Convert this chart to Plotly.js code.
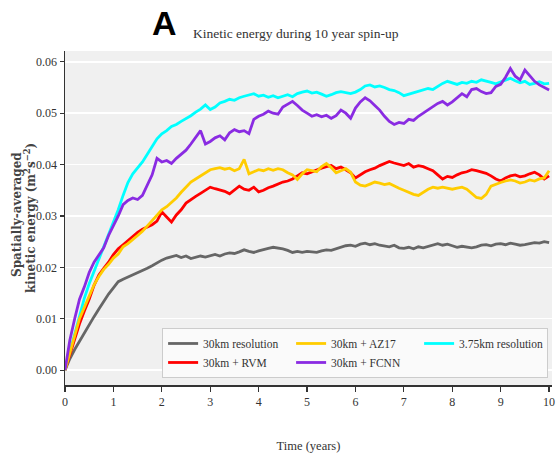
<!DOCTYPE html>
<html>
<head>
<meta charset="utf-8">
<script src="https://cdn.plot.ly/plotly-3.0.1.min.js"></script>
<style>html,body{margin:0;padding:0;background:#fff;}#chart{width:558px;height:455px;}</style>
</head>
<body>
<div id="chart"></div>
<script>
const timeYears = [0,0.1,0.2,0.3,0.4,0.5,0.6,0.7,0.8,0.9,1.0,1.1,1.2,1.3,1.4,1.5,1.6,1.7,1.8,1.9,2.0,2.1,2.2,2.3,2.4,2.5,2.6,2.7,2.8,2.9,3.0,3.1,3.2,3.3,3.4,3.5,3.6,3.7,3.8,3.9,4.0,4.1,4.2,4.3,4.4,4.5,4.6,4.7,4.8,4.9,5.0,5.1,5.2,5.3,5.4,5.5,5.6,5.7,5.8,5.9,6.0,6.1,6.2,6.3,6.4,6.5,6.6,6.7,6.8,6.9,7.0,7.1,7.2,7.3,7.4,7.5,7.6,7.7,7.8,7.9,8.0,8.1,8.2,8.3,8.4,8.5,8.6,8.7,8.8,8.9,9.0,9.1,9.2,9.3,9.4,9.5,9.6,9.7,9.8,9.9,10.0];

const ke30km = [0,0.0022,0.0040,0.0056,0.0072,0.0090,0.0104,0.0119,0.0134,0.0148,0.0160,0.0172,0.0177,0.0181,0.0185,0.0190,0.0194,0.0198,0.0203,0.0209,0.0214,0.0218,0.0221,0.0223,0.0219,0.0222,0.0217,0.0219,0.0222,0.0220,0.0223,0.0225,0.0222,0.0226,0.0228,0.0227,0.0230,0.0234,0.0231,0.0229,0.0232,0.0235,0.0237,0.0239,0.0238,0.0236,0.0233,0.0229,0.0231,0.0229,0.0231,0.0230,0.0229,0.0232,0.0234,0.0233,0.0236,0.0240,0.0242,0.0243,0.0241,0.0245,0.0247,0.0244,0.0246,0.0243,0.0242,0.0240,0.0243,0.0238,0.0237,0.0239,0.0236,0.0240,0.0238,0.0241,0.0244,0.0246,0.0243,0.0245,0.0242,0.0239,0.0241,0.0240,0.0238,0.0240,0.0243,0.0244,0.0242,0.0245,0.0246,0.0244,0.0247,0.0245,0.0243,0.0244,0.0246,0.0248,0.0247,0.0250,0.0248];

const keRVM = [0,0.0030,0.0060,0.0090,0.0115,0.0138,0.0165,0.0185,0.0198,0.0210,0.0225,0.0236,0.0244,0.0252,0.0260,0.0268,0.0274,0.0278,0.0283,0.0290,0.0308,0.0298,0.0288,0.0302,0.0312,0.0325,0.0332,0.0338,0.0344,0.0350,0.0356,0.0353,0.0350,0.0348,0.0343,0.0350,0.0358,0.0352,0.0350,0.0356,0.0347,0.0350,0.0355,0.0358,0.0362,0.0366,0.0368,0.0372,0.0378,0.0384,0.0382,0.0386,0.0389,0.0393,0.0396,0.0398,0.0392,0.0395,0.0390,0.0384,0.0374,0.0380,0.0386,0.0390,0.0393,0.0398,0.0402,0.0406,0.0403,0.0400,0.0398,0.0402,0.0395,0.0398,0.0396,0.0392,0.0388,0.0380,0.0372,0.0377,0.0375,0.0380,0.0384,0.0386,0.0390,0.0388,0.0386,0.0383,0.0378,0.0372,0.0368,0.0374,0.0378,0.0380,0.0376,0.0378,0.0382,0.0385,0.0380,0.0372,0.0378];

const keAZ17 = [0,0.0032,0.0064,0.0100,0.0122,0.0145,0.0166,0.0182,0.0196,0.0206,0.0218,0.0226,0.0240,0.0246,0.0255,0.0262,0.0270,0.0280,0.0292,0.0302,0.0312,0.0318,0.0326,0.0335,0.0346,0.0356,0.0366,0.0372,0.0378,0.0384,0.0390,0.0392,0.0394,0.0391,0.0393,0.0388,0.0392,0.0410,0.0382,0.0386,0.0390,0.0388,0.0392,0.0389,0.0392,0.0390,0.0384,0.0380,0.0371,0.0382,0.0390,0.0388,0.0386,0.0396,0.0402,0.0394,0.0384,0.0388,0.0392,0.0385,0.0366,0.0360,0.0358,0.0362,0.0366,0.0364,0.0361,0.0363,0.0358,0.0354,0.0350,0.0346,0.0342,0.0340,0.0346,0.0352,0.0356,0.0354,0.0356,0.0354,0.0352,0.0354,0.0356,0.0352,0.0343,0.0336,0.0334,0.0342,0.0358,0.0362,0.0365,0.0368,0.0370,0.0368,0.0364,0.0366,0.0370,0.0368,0.0372,0.0374,0.0388];

const keFCNN = [0,0.0058,0.0100,0.0138,0.0162,0.0190,0.0210,0.0225,0.0238,0.0262,0.0280,0.0300,0.0322,0.0330,0.0335,0.0332,0.0340,0.0360,0.0380,0.0412,0.0405,0.0408,0.0402,0.0412,0.0420,0.0428,0.0440,0.0452,0.0466,0.0440,0.0445,0.0452,0.0456,0.0448,0.0462,0.0468,0.0464,0.0466,0.0460,0.0488,0.0494,0.0498,0.0504,0.0500,0.0498,0.0512,0.0518,0.0523,0.0515,0.0506,0.0500,0.0494,0.0497,0.0493,0.0496,0.0490,0.0495,0.0506,0.0500,0.0490,0.0510,0.0522,0.0530,0.0524,0.0515,0.0506,0.0494,0.0484,0.0478,0.0482,0.0480,0.0488,0.0486,0.0494,0.0500,0.0506,0.0512,0.0519,0.0523,0.0516,0.0522,0.0530,0.0538,0.0532,0.0546,0.0548,0.0542,0.0538,0.0540,0.0552,0.0556,0.0570,0.0587,0.0572,0.0565,0.0584,0.0572,0.0562,0.0555,0.0550,0.0545];

const ke375km = [0,0.0035,0.0070,0.0108,0.0140,0.0168,0.0192,0.0215,0.0240,0.0262,0.0285,0.0312,0.0340,0.0365,0.0382,0.0394,0.0405,0.0420,0.0435,0.0450,0.0460,0.0466,0.0474,0.0478,0.0484,0.0489,0.0495,0.0502,0.0508,0.0516,0.0507,0.0512,0.0520,0.0523,0.0527,0.0525,0.0530,0.0533,0.0535,0.0538,0.0533,0.0535,0.0531,0.0534,0.0530,0.0533,0.0536,0.0532,0.0538,0.0541,0.0543,0.0539,0.0541,0.0537,0.0533,0.0536,0.0540,0.0542,0.0540,0.0538,0.0541,0.0546,0.0553,0.0555,0.0551,0.0553,0.0550,0.0546,0.0544,0.0540,0.0534,0.0537,0.0540,0.0543,0.0545,0.0548,0.0546,0.0552,0.0558,0.0562,0.0559,0.0556,0.0560,0.0558,0.0562,0.0560,0.0565,0.0563,0.0560,0.0557,0.0561,0.0565,0.0568,0.0563,0.0559,0.0562,0.0556,0.0558,0.0561,0.0557,0.0558];

const seriesNames = ['30km resolution','30km + AZ17','3.75km resolution','30km + RVM','30km + FCNN'];
const seriesColors = ['#666666','#ffcc00','#00ffff','#ff0000','#8a2be2'];
const seriesValues = [ke30km, keAZ17, ke375km, keRVM, keFCNN];
const drawOrder = [0, 2, 3, 1, 4];
const yTitleLines = ['<b>Spatially-averaged</b>', '<b>kinetic energy (m<sup>2</sup>s<sup>−2</sup>)</b>'];

const serif = '"Liberation Serif", "DejaVu Serif", serif';
const wideSerif = '"DejaVu Serif", "Liberation Serif", serif';

const traces = drawOrder.map(function(i){
  return {
    x: timeYears, y: seriesValues[i], type: 'scatter', mode: 'lines',
    name: seriesNames[i], legendrank: i + 1,
    line: {color: seriesColors[i], width: 2.8}
  };
});

const layout = {
  width: 558, height: 455,
  margin: {l: 65, r: 6, t: 51, b: 70},
  paper_bgcolor: '#ffffff',
  plot_bgcolor: '#f0f0f0',
  font: {family: serif, size: 12, color: '#333333'},
  title: {text: 'Kinetic energy during 10 year spin-up', font: {family: serif, size: 13.5, color: '#333333'},
          x: 0.53, xanchor: 'center', y: 0.927, yanchor: 'middle'},
  xaxis: {
    range: [0, 10.06], tickvals: [0,1,2,3,4,5,6,7,8,9,10], ticktext: ['0','1','2','3','4','5','6','7','8','9','10'],
    showgrid: false, zeroline: false, showline: true, linecolor: '#333333', linewidth: 1.5,
    ticks: 'outside', ticklen: 5, tickwidth: 1.2, tickcolor: '#333333',
    tickfont: {family: serif, size: 12, color: '#333333'},
    title: {text: 'Time (years)', font: {family: serif, size: 12.5, color: '#333333'}, standoff: 33}
  },
  yaxis: {
    range: [-0.0029, 0.0621], tickvals: [0,0.01,0.02,0.03,0.04,0.05,0.06],
    ticktext: ['0.00','0.01','0.02','0.03','0.04','0.05','0.06'],
    showgrid: true, gridcolor: '#ffffff', gridwidth: 1.5, zeroline: false,
    showline: true, linecolor: '#333333', linewidth: 1.5,
    ticks: 'outside', ticklen: 4, tickwidth: 1.2, tickcolor: '#333333',
    tickfont: {family: serif, size: 12, color: '#333333'}
  },
  showlegend: true,
  legend: {
    orientation: 'h', x: 0.992, xanchor: 'right', y: 0.021, yanchor: 'bottom',
    bgcolor: '#fafafa', bordercolor: '#cccccc', borderwidth: 1,
    entrywidth: 83, itemwidth: 30, traceorder: 'normal',
    font: {family: serif, size: 11.5, color: '#333333'}
  },
  annotations: [{
    text: '<b>A</b>', xref: 'paper', yref: 'paper', x: 0.205, y: 1.084, xanchor: 'center', yanchor: 'middle',
    showarrow: false, font: {family: '"Liberation Sans", Arial, sans-serif', size: 34, color: '#000000'}
  }, {
    text: yTitleLines[0],
    xref: 'paper', yref: 'paper', x: 0, y: 0.5, xshift: -48, yshift: 3, xanchor: 'center', yanchor: 'middle',
    textangle: -90, showarrow: false,
    font: {family: wideSerif, size: 12, color: '#444444'}
  }, {
    text: yTitleLines[1],
    xref: 'paper', yref: 'paper', x: 0, y: 0.5, xshift: -35, xanchor: 'center', yanchor: 'middle',
    textangle: -90, showarrow: false,
    font: {family: wideSerif, size: 12, color: '#444444'}
  }]
};

Plotly.newPlot('chart', traces, layout, {displayModeBar: false, staticPlot: true});
</script>
</body>
</html>
